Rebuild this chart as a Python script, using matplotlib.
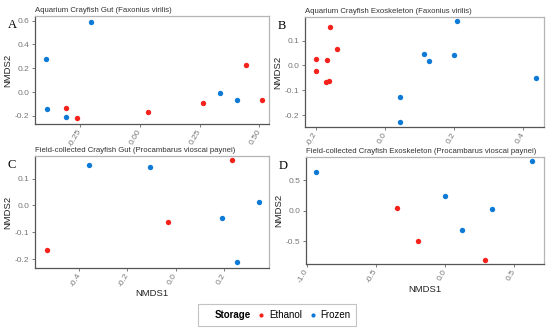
"""NMDS ordination of crayfish microbiome by storage method (4 panels)."""

import matplotlib
matplotlib.use("Agg")
import matplotlib.pyplot as plt
from matplotlib.lines import Line2D

plt.rcParams["font.family"] = ["Liberation Sans", "DejaVu Sans"]

RED = "#f5221b"
BLUE = "#0d7ad6"

# Panel A: aquarium gut
a_eth_x = [-0.31, -0.263, 0.034, 0.263, 0.442, 0.51]
a_eth_y = [-0.135, -0.22, -0.165, -0.09, 0.225, -0.065]
a_frz_x = [-0.205, -0.394, -0.39, -0.312, 0.336, 0.408]
a_frz_y = [0.59, 0.28, -0.14, -0.21, -0.01, -0.065]

# Panel B: aquarium exoskeleton
b_eth_x = [-0.201, -0.201, -0.16, -0.139, -0.169, -0.172, -0.161]
b_eth_y = [0.027, -0.024, 0.154, 0.064, 0.020, -0.067, -0.064]
b_frz_x = [0.209, 0.113, 0.126, 0.199, 0.438, 0.043, 0.042]
b_frz_y = [0.179, 0.047, 0.016, 0.040, -0.050, -0.128, -0.228]

# Panel C: field gut
c_eth_x = [-0.535, -0.032, 0.232]
c_eth_y = [-0.164, -0.062, 0.167]
c_frz_x = [-0.361, -0.105, 0.193, 0.255, 0.346]
c_frz_y = [0.152, 0.144, -0.046, -0.212, 0.014]

# Panel D: field exoskeleton
d_eth_x = [-0.35, -0.193, 0.287]
d_eth_y = [0.049, -0.489, -0.808]
d_frz_x = [-0.932, 0.628, 0.0, 0.341, 0.126]
d_frz_y = [0.632, 0.813, 0.247, 0.038, -0.319]

panels = [
    ("A", "Aquarium Crayfish Gut (Faxonius virilis)",
     a_eth_x, a_eth_y, a_frz_x, a_frz_y,
     [-0.25, 0.0, 0.25, 0.50], ["-0.25", "0.00", "0.25", "0.50"],
     [-0.2, 0.0, 0.2, 0.4, 0.6], (-0.44, 0.54), (-0.27, 0.64), False,
     [0.0636, 0.625, 0.4254, 0.327]),
    ("B", "Aquarium Crayfish Exoskeleton (Faxonius virilis)",
     b_eth_x, b_eth_y, b_frz_x, b_frz_y,
     [-0.2, 0.0, 0.2, 0.4], ["-0.2", "0.0", "0.2", "0.4"],
     [-0.2, -0.1, 0.0, 0.1], (-0.232, 0.46), (-0.248, 0.195), False,
     [0.5545, 0.616, 0.4345, 0.333]),
    ("C", "Field-collected Crayfish Gut (Procambarus vioscai paynei)",
     c_eth_x, c_eth_y, c_frz_x, c_frz_y,
     [-0.4, -0.2, 0.0, 0.2], ["-0.4", "-0.2", "0.0", "0.2"],
     [-0.2, -0.1, 0.0, 0.1], (-0.583, 0.386), (-0.233, 0.184), True,
     [0.0636, 0.190, 0.4254, 0.339]),
    ("D", "Field-collected Crayfish Exoskeleton (Procambarus vioscai paynei)",
     d_eth_x, d_eth_y, d_frz_x, d_frz_y,
     [-1.0, -0.5, 0.0, 0.5], ["-1.0", "-0.5", "0.0", "0.5"],
     [-0.5, 0.0, 0.5], (-1.007, 0.715), (-0.874, 0.885), True,
     [0.556, 0.202, 0.433, 0.324]),
]

fig = plt.figure(figsize=(5.5, 3.31), dpi=100)

for (letter, title, ex, ey, fx, fy, xt, xtl, yt, xlim, ylim, xlab, pos) in panels:
    ax = fig.add_axes(pos)
    ax.scatter(ex, ey, s=15, color=RED, linewidths=0, zorder=3)
    ax.scatter(fx, fy, s=15, color=BLUE, linewidths=0, zorder=3)
    ax.set_xlim(*xlim)
    ax.set_ylim(*ylim)
    ax.set_xticks(xt)
    ax.set_xticklabels(xtl, rotation=60, ha="right", va="center",
                       rotation_mode="anchor")
    ax.set_yticks(yt)
    ax.set_yticklabels([f"{v:.1f}" for v in yt])
    ax.tick_params(labelsize=6, colors="#666666", length=2, width=0.6,
                   labelcolor="#777777", pad=2)
    for side in ("left", "bottom"):
        ax.spines[side].set_color("#555555")
        ax.spines[side].set_linewidth(0.9)
    for side in ("top", "right"):
        ax.spines[side].set_color("#b5b5b5")
        ax.spines[side].set_linewidth(0.9)
    ax.set_ylabel("NMDS2", fontsize=6.8, color="#222222", labelpad=2)
    if xlab:
        ax.set_xlabel("NMDS1", fontsize=6.8, color="#222222", labelpad=1)
    ax.set_title(title, fontsize=5.6, color="#333333", loc="left", pad=3)
    bb = ax.get_position()
    fig.text(bb.x0 - 0.05, bb.y1 - 0.01, letter, family="Liberation Serif",
             fontsize=9, ha="left", va="top")

handles = [
    Line2D([], [], linestyle="none"),
    Line2D([], [], linestyle="none", marker="o", markersize=3,
           color=RED, markeredgewidth=0),
    Line2D([], [], linestyle="none", marker="o", markersize=3,
           color=BLUE, markeredgewidth=0),
]
leg = fig.legend(handles, ["Storage", "Ethanol", "Frozen"], ncol=3,
                 loc="center", bbox_to_anchor=(0.504, 0.048), fontsize=7,
                 frameon=True, fancybox=False, edgecolor="#b5b5b5",
                 handlelength=0.6, handletextpad=0.5, columnspacing=0.8,
                 borderpad=0.6)
leg.get_frame().set_linewidth(0.8)
leg.get_texts()[0].set_fontweight("bold")

fig.savefig("out.png", dpi=100)
